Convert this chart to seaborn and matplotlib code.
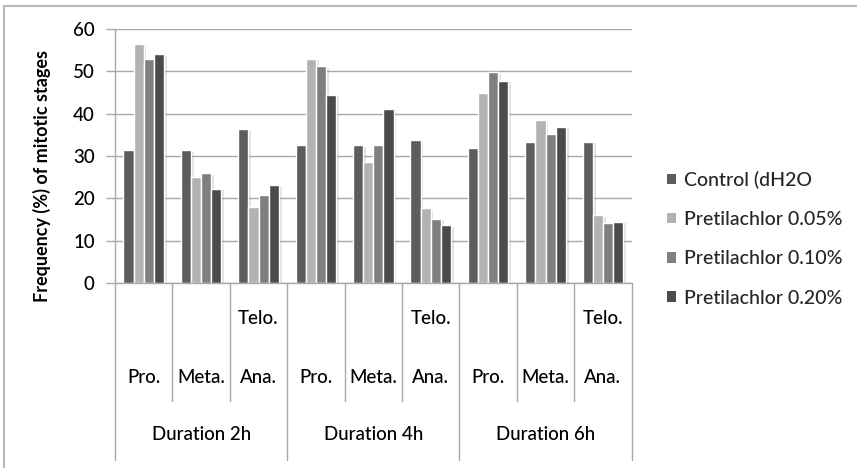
import numpy as np
import pandas as pd
import seaborn as sns
import matplotlib
matplotlib.use("Agg")
import matplotlib.pyplot as plt
import matplotlib.patheffects as pe
from matplotlib.lines import Line2D

# ---- data -------------------------------------------------------------
durations = ["Duration 2h", "Duration 4h", "Duration 6h"]
stages = ["Pro.", "Meta.", "Telo.\nAna."]
treatments = ["Control (dH2O", "Pretilachlor 0.05%",
              "Pretilachlor 0.10%", "Pretilachlor 0.20%"]

# one value per (duration, stage), in duration-major order
control = [31.3, 31.3, 36.3, 32.5, 32.5, 33.7, 32.0, 33.2, 33.4]
pret_005 = [56.4, 25.0, 17.9, 53.0, 28.6, 17.6, 44.8, 38.4, 16.0]
pret_010 = [52.8, 25.9, 20.7, 51.2, 32.5, 15.1, 49.8, 35.1, 14.2]
pret_020 = [54.0, 22.2, 23.1, 44.5, 41.2, 13.6, 47.7, 36.9, 14.4]

y_ticks = [0, 10, 20, 30, 40, 50, 60]
colors = ["#5d5d5d", "#b2b2b2", "#7f7f7f", "#4b4b4b"]

# ---- long table -------------------------------------------------------
categories = [f"{d}|{s}" for d in durations for s in stages]
rows = []
for name, vals in zip(treatments, [control, pret_005, pret_010, pret_020]):
    for cat, v in zip(categories, vals):
        rows.append({"category": cat, "treatment": name, "value": v})
df = pd.DataFrame(rows)

# ---- figure -----------------------------------------------------------
sns.set_style("white")
plt.rcParams["font.family"] = ["Lato", "DejaVu Sans"]
TXT_W = 500

W, H = 857, 468
fig = plt.figure(figsize=(W / 100, H / 100), dpi=100)
ax_left, ax_right, ax_top, ax_bottom = 115, 631.6, 29, 283
ax = fig.add_axes([ax_left / W, 1 - ax_bottom / H,
                   (ax_right - ax_left) / W, (ax_bottom - ax_top) / H])

sns.barplot(data=df, x="category", y="value", hue="treatment",
            order=categories, hue_order=treatments, palette=colors,
            width=0.705, edgecolor="white", linewidth=1.0,
            saturation=1, ax=ax)

shadow = [pe.SimplePatchShadow(offset=(2, -1), shadow_rgbFace=(0.55, 0.55, 0.55),
                               alpha=0.25), pe.Normal()]
for bar in ax.patches:
    bar.set_path_effects(shadow)

grid_c = "#a8a8a8"
ax.set_xlim(-0.5, len(categories) - 0.5)
ax.set_ylim(0, 60)
ax.set_yticks(y_ticks)
ax.yaxis.grid(True, color=grid_c, linewidth=1)
ax.set_axisbelow(True)
for side in ("top", "right"):
    ax.spines[side].set_visible(False)
for side in ("left", "bottom"):
    ax.spines[side].set_color(grid_c)
    ax.spines[side].set_linewidth(1)
ax.tick_params(axis="y", direction="out", length=6.5, width=1, color=grid_c,
               pad=8, labelsize=13.5, labelcolor="black", left=True)
for t in ax.get_yticklabels():
    t.set_fontweight(TXT_W)
ax.set_xticks([])
ax.set_xlabel("")
ax.set_ylabel("")

# ---- two-level category axis --------------------------------------------
def px_to_axes_y(py):
    return (ax_bottom - py) / (ax_bottom - ax_top)

trans = ax.get_xaxis_transform()
n_stage = len(stages)
for k in range(len(categories) + 1):
    outer = k % n_stage == 0
    y_end = 460 if outer else 401
    ax.add_line(Line2D([k - 0.5, k - 0.5], [0, px_to_axes_y(y_end)],
                       transform=trans, color=grid_c, lw=1, clip_on=False))

for i, cat in enumerate(categories):
    label = cat.split("|")[1]
    lines = label.split("\n")
    for j, line in enumerate(reversed(lines)):
        ax.text(i, px_to_axes_y(378 - 60 * j), line, transform=trans,
                ha="center", va="center", fontsize=13.5, fontweight=TXT_W,
                color="black")

for g, dur in enumerate(durations):
    centre = g * n_stage + (n_stage - 1) / 2
    ax.text(centre, px_to_axes_y(435), dur, transform=trans,
            ha="center", va="center", fontsize=13.5, fontweight=TXT_W,
            color="black")

# ---- axis title -------------------------------------------------------------
fig.text(42 / W, 1 - 176 / H, "Frequency (%) of mitotic stages", rotation=90,
         ha="center", va="center", fontsize=13, fontweight="bold", color="black")

# ---- legend -----------------------------------------------------------------
handles, labels = ax.get_legend_handles_labels()
if ax.get_legend() is not None:
    ax.get_legend().remove()
leg = fig.legend(handles, labels, loc="upper left",
                 bbox_to_anchor=(667 / W, 1 - 171 / H), frameon=False,
                 handlelength=0.45, handleheight=0.45,
                 handletextpad=0.4, labelspacing=1.14, borderpad=0,
                 borderaxespad=0, prop={"size": 14, "weight": TXT_W})
for h in leg.legend_handles:
    h.set_path_effects([])
    h.set_edgecolor("none")

# ---- chart-area frame ------------------------------------------------------
fig.add_artist(Line2D([3.5 / W, 3.5 / W], [1 - 6 / H, 0], color="#b8b8b8",
                      lw=1.5, transform=fig.transFigure))
fig.add_artist(Line2D([3.5 / W, 1], [1 - 6 / H, 1 - 6 / H], color="#b8b8b8",
                      lw=1.5, transform=fig.transFigure))

fig.savefig("out.png", dpi=100, facecolor="white")
